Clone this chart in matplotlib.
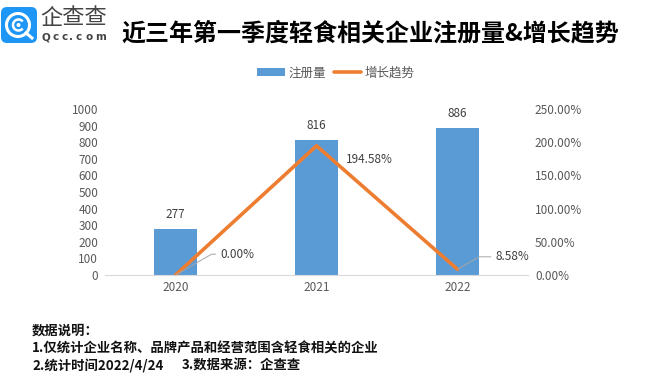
import matplotlib
matplotlib.use('Agg')
import matplotlib.pyplot as plt
from matplotlib.patches import FancyBboxPatch, Circle, Arc
from matplotlib.ticker import FuncFormatter

plt.rcParams['font.family'] = ['Noto Sans CJK SC', 'DejaVu Sans']

years = ['2020', '2021', '2022']
registrations = [277, 816, 886]
growth = [0.0, 194.58, 8.58]
growth_labels = ['0.00%', '194.58%', '8.58%']
left_ticks = [0, 100, 200, 300, 400, 500, 600, 700, 800, 900, 1000]
right_ticks = [0, 50, 100, 150, 200, 250]

W, H = 663, 382
BLUE = '#5B9BD5'
ORANGE = '#ED7D31'
GREY = '#595959'

fig = plt.figure(figsize=(W / 100, H / 100), dpi=100)

ax = fig.add_axes([105 / W, 1 - 275 / H, 423 / W, 166 / H])
xs = range(len(years))
bars = ax.bar(xs, registrations, width=0.312, color=BLUE, label='注册量')
ax.set_xlim(-0.5, 2.5)
ax.set_ylim(0, 1000)
ax.set_yticks(left_ticks)
ax.set_xticks(list(xs), years)
ax.tick_params(length=0, labelsize=8.5, labelcolor=GREY)
ax.tick_params(axis='x', pad=4)
ax.tick_params(axis='y', pad=5)
for s in ['top', 'left', 'right']:
    ax.spines[s].set_visible(False)
ax.spines['bottom'].set_color('#D9D9D9')

for x, v in zip(xs, registrations):
    ax.annotate(str(v), (x, v), xytext=(0, 5.5), textcoords='offset points',
                ha='center', va='bottom', fontsize=8.5, color='#404040')

ax2 = ax.twinx()
line, = ax2.plot(list(xs), growth, color=ORANGE, lw=2.6, label='增长趋势',
                 solid_capstyle='round')
ax2.set_ylim(0, 250)
ax2.set_yticks(right_ticks)
ax2.yaxis.set_major_formatter(FuncFormatter(lambda v, p: '%.2f%%' % v))
ax2.tick_params(length=0, labelsize=8.5, labelcolor=GREY, pad=5)
for s in ax2.spines.values():
    s.set_visible(False)

# data labels with thin leader lines
offsets = [(32, 15), (21, -10), (27, 9)]
for i, (g, lab) in enumerate(zip(growth, growth_labels)):
    if i == 1:
        ax2.annotate(lab, (i, g), xytext=offsets[i], textcoords='offset points',
                     ha='left', va='center', fontsize=8.5, color='#404040')
        continue
    ax2.annotate(lab, (i, g), xytext=offsets[i], textcoords='offset points',
                 ha='left', va='center', fontsize=8.5, color='#404040',
                 arrowprops=dict(arrowstyle='-', color='#A6A6A6', lw=0.7,
                                 shrinkA=1, shrinkB=0,
                                 connectionstyle='angle,angleA=0,angleB=30,rad=0'))

fig.legend([bars, line], ['注册量', '增长趋势'], loc='center',
           bbox_to_anchor=(336 / W, 1 - 73 / H), ncol=2, frameon=False,
           fontsize=9, labelcolor=GREY, handlelength=2.2, handletextpad=0.3,
           columnspacing=0.6, handleheight=0.6)

# page overlay in pixel coordinates
page = fig.add_axes([0, 0, 1, 1], zorder=5)
page.set_xlim(0, W)
page.set_ylim(H, 0)
page.axis('off')
page.patch.set_alpha(0)

page.add_patch(FancyBboxPatch((1, 7), 36, 36, boxstyle='round,pad=0,rounding_size=6',
                              fc='#1E96F5', ec='none'))
page.add_patch(Circle((18, 25), 11.5, fc='none', ec='white', lw=2.2))
page.add_patch(Arc((18.5, 25), 11, 11, theta1=40, theta2=320, ec='white', lw=1.8))
page.add_patch(Circle((18.5, 25), 2, fc='white', ec='none'))
page.plot([26, 32], [33, 38], color='white', lw=2.2)

page.text(73.5, 18, '企查查', fontsize=16, color='#444444', ha='center', va='center')
logo_letters = list('Qcc.com')
logo_xs = [46, 56, 65, 71, 79, 89, 101]
for ch, lx in zip(logo_letters, logo_xs):
    page.text(lx, 37.5, ch, fontsize=7.5, color='#444444', ha='center', va='center',
              family='DejaVu Sans', fontweight='bold')

page.text(121, 33, '近三年第一季度轻食相关企业注册量&增长趋势', fontsize=17.3,
          fontweight='bold', color='black', ha='left', va='center')

notes = ['数据说明：', '1.仅统计企业名称、品牌产品和经营范围含轻食相关的企业',
         '2.统计时间2022/4/24', '3.数据来源：企查查']
note_xs = [32, 32, 32, 182]
note_ys = [331, 349, 366, 366]
for t, nx, y in zip(notes, note_xs, note_ys):
    page.text(nx, y, t, fontsize=9.6, fontweight='bold', color='#111111',
              ha='left', va='center')

fig.savefig('out.png', dpi=100)
